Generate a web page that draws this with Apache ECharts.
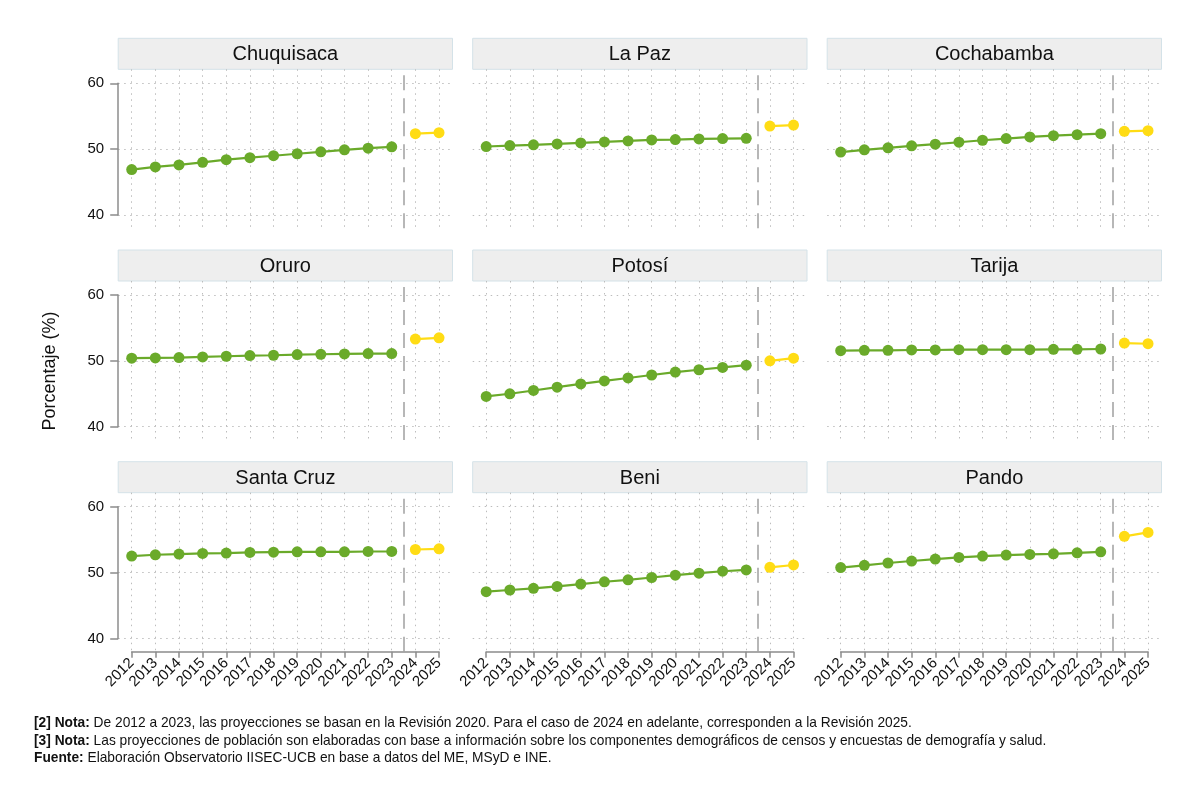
<!DOCTYPE html>
<html>
<head>
<meta charset="UTF-8">
<title>Porcentaje por departamento</title>
<script src="https://cdn.jsdelivr.net/npm/echarts@6/dist/echarts.min.js"></script>
<style>
  html, body { margin: 0; padding: 0; background: #fff; }
  #main { width: 1200px; height: 801px; }
</style>
</head>
<body>
<div id="main"></div>
<script>
// datos
var departamentos = ['Chuquisaca', 'La Paz', 'Cochabamba', 'Oruro', 'Potosí', 'Tarija', 'Santa Cruz', 'Beni', 'Pando'];
var aniosHist = [2012, 2013, 2014, 2015, 2016, 2017, 2018, 2019, 2020, 2021, 2022, 2023];
var aniosProy = [2024, 2025];
var ticksY = [40, 50, 60];

var chuquisaca = [46.9, 47.3, 47.6, 48.0, 48.4, 48.7, 49.0, 49.3, 49.6, 49.9, 50.15, 50.35];
var chuquisacaProy = [52.35, 52.5];
var laPaz = [50.4, 50.55, 50.65, 50.8, 50.95, 51.1, 51.25, 51.4, 51.45, 51.55, 51.6, 51.65];
var laPazProy = [53.5, 53.65];
var cochabamba = [49.55, 49.9, 50.2, 50.5, 50.75, 51.05, 51.35, 51.6, 51.85, 52.05, 52.2, 52.35];
var cochabambaProy = [52.7, 52.8];
var oruro = [50.4, 50.45, 50.5, 50.6, 50.7, 50.8, 50.85, 50.95, 51.0, 51.05, 51.1, 51.1];
var oruroProy = [53.3, 53.5];
var potosi = [44.6, 45.0, 45.5, 46.0, 46.5, 46.95, 47.4, 47.85, 48.3, 48.65, 49.0, 49.35];
var potosiProy = [50.0, 50.4];
var tarija = [51.55, 51.6, 51.6, 51.65, 51.65, 51.7, 51.7, 51.7, 51.7, 51.75, 51.75, 51.8];
var tarijaProy = [52.7, 52.6];
var santaCruz = [52.5, 52.7, 52.8, 52.9, 52.95, 53.05, 53.1, 53.15, 53.15, 53.15, 53.2, 53.2];
var santaCruzProy = [53.5, 53.6];
var beni = [47.1, 47.35, 47.6, 47.9, 48.25, 48.6, 48.9, 49.25, 49.6, 49.9, 50.2, 50.4];
var beniProy = [50.8, 51.15];
var pando = [50.75, 51.1, 51.45, 51.75, 52.05, 52.3, 52.5, 52.65, 52.75, 52.85, 53.0, 53.15];
var pandoProy = [55.5, 56.1];

var historico = [chuquisaca, laPaz, cochabamba, oruro, potosi, tarija, santaCruz, beni, pando];
var proyeccion = [chuquisacaProy, laPazProy, cochabambaProy, oruroProy, potosiProy, tarijaProy, santaCruzProy, beniProy, pandoProy];

var notas = [
  '{b|[2] Nota:} De 2012 a 2023, las proyecciones se basan en la Revisión 2020. Para el caso de 2024 en adelante, corresponden a la Revisión 2025.',
  '{b|[3] Nota:} Las proyecciones de población son elaboradas con base a información sobre los componentes demográficos de censos y encuestas de demografía y salud.',
  '{b|Fuente:} Elaboración Observatorio IISEC-UCB en base a datos del ME, MSyD e INE.'
];

var verde = '#6aaa2a';
var amarillo = '#ffdc14';
var gris = '#8c8c8c';
var punteado = { color: '#bdbdbd', width: 1, type: [1.5, 4.5] };
var fuente = 'Liberation Sans, Arial, sans-serif';

// geometria de los paneles (px)
var xIni = 131.7, colPaso = 354.5, anioPaso = 23.64, margenX = 13.5;
var rowPaso = 211.7, cabTop = 38.3, cabAlto = 31;
var y60 = 83.3, y40 = 215.0, plotBottom = 228.3;

var chart = echarts.init(document.getElementById('main'), null, { renderer: 'canvas' });

var grids = [], xAxes = [], yAxes = [], series = [], graphics = [];

departamentos.forEach(function (nombre, i) {
  var r = Math.floor(i / 3), c = i % 3;
  var x0 = xIni + c * colPaso;
  var x1 = x0 + 13 * anioPaso;
  var L = x0 - margenX, R = x1 + margenX;
  var top = cabTop + r * rowPaso;
  var pTop = top + cabAlto;
  var t60 = y60 + r * rowPaso, t40 = y40 + r * rowPaso, pBot = plotBottom + r * rowPaso;
  var ppu = (t40 - t60) / 20;

  // grid horizontal (40-60), lineas horizontales y eje y
  grids.push({ left: L, top: t60, width: R - L, height: t40 - t60 });
  xAxes.push({ gridIndex: 2 * i, type: 'value', show: false, min: 2011, max: 2026 });
  yAxes.push({
    gridIndex: 2 * i, type: 'value', min: ticksY[0], max: ticksY[2], interval: 10,
    axisLine: { show: c === 0, lineStyle: { color: gris, width: 1.5 } },
    axisTick: { show: c === 0, length: 8, lineStyle: { color: gris, width: 1.5 } },
    axisLabel: { show: c === 0, fontSize: 15, color: '#111', fontFamily: fuente, margin: 14 },
    splitLine: { show: true, lineStyle: punteado }
  });

  // grid de años (region completa del panel)
  grids.push({ left: x0, top: pTop, width: x1 - x0, height: pBot - pTop });
  xAxes.push({
    gridIndex: 2 * i + 1, type: 'value', min: 2012, max: 2025, interval: 1,
    axisLine: { show: r === 2, lineStyle: { color: gris, width: 1.5 } },
    axisTick: { show: r === 2, length: 6, lineStyle: { color: gris, width: 1.5 } },
    axisLabel: {
      show: r === 2, rotate: 45, fontSize: 15, color: '#111', fontFamily: fuente, margin: 9,
      formatter: function (v) { return String(v); }
    },
    splitLine: { show: true, lineStyle: punteado }
  });
  yAxes.push({
    gridIndex: 2 * i + 1, type: 'value', show: false,
    min: 40 - (pBot - t40) / ppu, max: 60 + (t60 - pTop) / ppu,
    splitLine: { show: false }
  });

  series.push({
    type: 'line', xAxisIndex: 2 * i + 1, yAxisIndex: 2 * i + 1, clip: false,
    data: aniosHist.map(function (a, k) { return [a, historico[i][k]]; }),
    symbol: 'circle', symbolSize: 11,
    lineStyle: { color: verde, width: 2.2 }, itemStyle: { color: verde },
    markLine: {
      silent: true, symbol: 'none', label: { show: false },
      lineStyle: { color: '#a0a0a0', width: 1.5, type: [15, 8] },
      data: [{ xAxis: 2023.5 }]
    },
    animation: false
  });
  series.push({
    type: 'line', xAxisIndex: 2 * i + 1, yAxisIndex: 2 * i + 1, clip: false,
    data: aniosProy.map(function (a, k) { return [a, proyeccion[i][k]]; }),
    symbol: 'circle', symbolSize: 11,
    lineStyle: { color: amarillo, width: 2.2 }, itemStyle: { color: amarillo },
    animation: false
  });

  // cabecera del panel
  graphics.push({
    type: 'rect', shape: { x: L, y: top, width: R - L, height: cabAlto },
    style: { fill: '#eeeeee', stroke: '#d4e2e8', lineWidth: 1 }, silent: true
  });
  graphics.push({
    type: 'text', x: (L + R) / 2, y: top + cabAlto / 2 + 1,
    style: { text: nombre, fontSize: 20, fontFamily: fuente, fill: '#111', align: 'center', verticalAlign: 'middle' },
    silent: true
  });
});

// titulo del eje y
graphics.push({
  type: 'text', x: 50, y: 371, rotation: Math.PI / 2,
  style: { text: 'Porcentaje (%)', fontSize: 18, fontFamily: fuente, fill: '#111', align: 'center', verticalAlign: 'middle' },
  silent: true
});

// notas al pie (texto algo estrecho, como en el original)
notas.forEach(function (txt, k) {
  graphics.push({
    type: 'text', x: 34, y: 723 + k * 17.5, scaleX: 0.917,
    style: {
      text: txt, fontSize: 15, fontFamily: fuente, fill: '#111',
      verticalAlign: 'middle',
      rich: { b: { fontWeight: 'bold', fontSize: 15, fontFamily: fuente, fill: '#111' } }
    },
    silent: true
  });
});

chart.setOption({
  backgroundColor: '#ffffff',
  animation: false,
  grid: grids,
  xAxis: xAxes,
  yAxis: yAxes,
  series: series,
  graphic: graphics
});
</script>
</body>
</html>
